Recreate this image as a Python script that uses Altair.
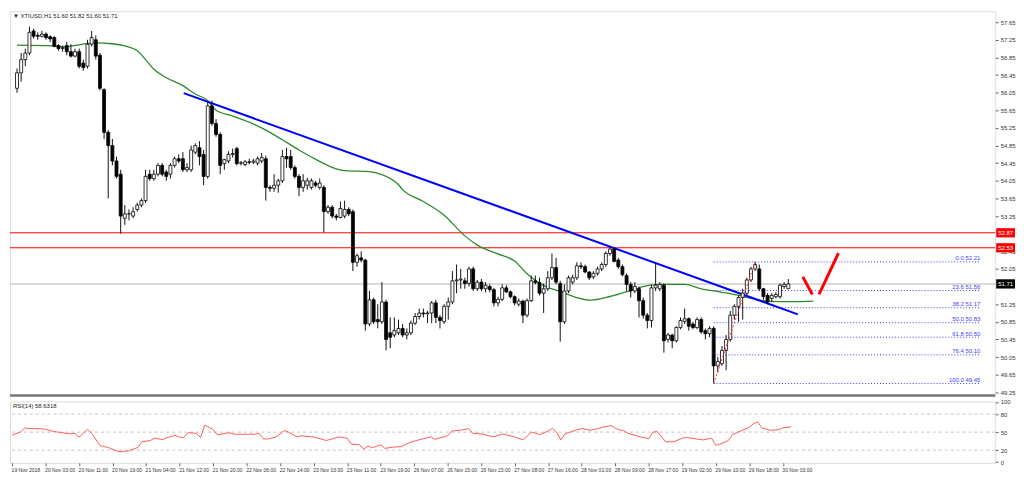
import altair as alt
import pandas as pd

# ---------------- data ----------------
opens = [56.15, 56.50, 56.80, 56.95, 57.45, 57.35, 57.33, 57.38, 57.32, 57.30,
         57.12, 57.05, 57.12, 56.98, 56.88, 56.98, 56.72, 56.65, 57.15, 57.25,
         56.90, 56.12, 55.15, 54.85, 54.50, 54.20, 53.20, 53.30, 53.25, 53.40,
         53.50, 53.60, 54.20, 54.10, 54.20, 54.40, 54.25, 54.20, 54.40, 54.55,
         54.55, 54.30, 54.30, 54.70, 54.80, 54.65, 54.15, 55.75, 55.35, 55.10,
         54.44, 54.50, 54.65, 54.78, 54.45, 54.42, 54.48, 54.47, 54.45, 54.50,
         54.55, 53.90, 53.88, 53.95, 54.05, 54.60, 54.60, 54.35, 54.15, 53.90,
         53.95, 53.90, 54.00, 53.90, 53.90, 53.35, 53.45, 53.25, 53.22, 53.25,
         53.40, 53.35, 52.20, 52.30, 52.25, 50.80, 51.35, 50.90, 50.85, 51.30,
         50.60, 50.55, 50.60, 50.70, 50.55, 50.60, 50.82, 50.97, 51.05, 51.03,
         51.05, 51.28, 50.95, 50.85, 51.20, 51.30, 51.78, 51.80, 51.78, 51.72,
         52.05, 51.60, 51.75, 51.60, 51.65, 51.58, 51.28, 51.36, 51.62, 51.53,
         51.42, 51.25, 51.32, 51.00, 51.33, 51.78, 51.74, 51.50, 51.60, 51.85,
         52.08, 51.72, 50.85, 51.55, 51.75, 51.85, 52.12, 52.10, 51.98, 51.87,
         51.95, 52.05, 52.15, 52.40, 52.50, 52.25, 52.10, 51.90, 51.70, 51.55,
         51.60, 51.33, 51.00, 50.88, 51.62, 51.60, 51.68, 50.45, 50.55, 50.42,
         50.72, 50.86, 50.92, 50.80, 50.72, 50.90, 50.65, 50.58, 50.70, 49.85,
         49.90, 50.20, 50.45, 51.00, 51.20, 51.40, 51.50, 51.80, 52.05, 52.05,
         51.60, 51.45, 51.38, 51.42, 51.42, 51.65, 51.60]
highs = [56.60, 56.95, 57.05, 57.55, 57.50, 57.42, 57.45, 57.42, 57.35, 57.33,
         57.15, 57.12, 57.20, 57.15, 57.05, 57.05, 56.80, 57.25, 57.45, 57.35,
         56.95, 56.15, 55.20, 55.00, 54.60, 54.30, 53.50, 53.40, 53.45, 53.55,
         53.65, 54.30, 54.30, 54.30, 54.45, 54.45, 54.30, 54.45, 54.60, 54.65,
         54.70, 54.45, 54.85, 54.90, 54.95, 54.75, 55.85, 55.87, 55.45, 55.15,
         54.55, 54.72, 54.78, 54.82, 54.50, 54.52, 54.55, 54.55, 54.60, 54.68,
         54.62, 53.95, 54.20, 54.10, 54.75, 54.80, 54.75, 54.40, 54.20, 54.20,
         54.12, 54.10, 54.05, 54.10, 53.95, 53.50, 53.50, 53.30, 53.58, 53.60,
         53.45, 53.40, 52.40, 52.45, 52.28, 51.55, 51.40, 51.25, 51.75, 51.35,
         50.95, 50.95, 50.90, 50.80, 50.70, 50.88, 51.05, 51.15, 51.15, 51.10,
         51.32, 51.35, 51.00, 51.25, 51.40, 52.00, 52.15, 52.05, 51.85, 52.10,
         52.10, 51.80, 51.82, 51.75, 51.70, 51.62, 51.42, 51.70, 51.68, 51.56,
         51.45, 51.38, 51.35, 51.38, 51.90, 51.90, 51.85, 51.72, 52.00, 52.40,
         52.30, 51.78, 51.70, 51.90, 51.92, 52.20, 52.20, 52.15, 52.00, 52.00,
         52.10, 52.20, 52.45, 52.55, 52.55, 52.30, 52.15, 51.95, 51.75, 51.75,
         51.65, 51.40, 51.05, 51.70, 52.20, 51.75, 51.72, 50.60, 50.58, 50.75,
         50.95, 51.15, 50.95, 50.85, 50.95, 50.95, 50.70, 50.75, 50.75, 50.05,
         50.30, 50.55, 51.10, 51.25, 51.45, 51.60, 51.85, 52.10, 52.21, 52.15,
         51.62, 51.50, 51.50, 51.52, 51.72, 51.75, 51.82]
lows = [56.05, 56.30, 56.65, 56.90, 57.28, 57.25, 57.30, 57.25, 57.20, 57.08,
        57.00, 56.98, 56.90, 56.85, 56.85, 56.60, 56.55, 56.60, 57.10, 56.80,
        56.10, 55.00, 53.65, 54.40, 54.10, 52.85, 53.05, 53.15, 53.20, 53.35,
        53.45, 53.55, 54.05, 54.05, 54.15, 54.15, 54.05, 54.10, 54.35, 54.45,
        54.25, 54.25, 54.25, 54.65, 54.40, 53.95, 54.10, 55.30, 55.05, 54.20,
        54.30, 54.45, 54.58, 54.40, 54.40, 54.38, 54.42, 54.43, 54.40, 54.45,
        53.60, 53.80, 53.80, 53.78, 54.00, 54.35, 54.30, 54.10, 53.70, 53.80,
        53.85, 53.85, 53.90, 53.85, 52.88, 53.30, 53.20, 53.15, 53.20, 53.20,
        53.25, 52.00, 52.10, 52.20, 50.65, 50.75, 50.80, 50.70, 50.80, 50.20,
        50.25, 50.50, 50.55, 50.50, 50.45, 50.55, 50.78, 50.90, 50.95, 50.82,
        50.82, 50.82, 50.70, 50.80, 50.90, 51.25, 51.50, 51.60, 51.60, 51.65,
        51.55, 51.55, 51.55, 51.52, 51.52, 51.20, 51.20, 51.32, 51.50, 51.38,
        51.22, 51.20, 50.82, 50.95, 51.30, 51.70, 51.45, 51.05, 51.55, 51.80,
        51.70, 50.40, 50.80, 51.50, 51.70, 51.80, 52.05, 51.95, 51.80, 51.82,
        51.90, 52.00, 52.10, 52.35, 52.20, 52.05, 51.88, 51.55, 51.40, 51.50,
        50.95, 50.92, 50.70, 50.72, 51.55, 51.55, 50.15, 50.38, 50.25, 50.38,
        50.68, 50.80, 50.65, 50.68, 50.68, 50.58, 50.45, 50.50, 49.45, 49.70,
        49.85, 49.75, 50.40, 50.90, 50.85, 50.90, 51.45, 51.75, 52.00, 51.55,
        51.35, 51.25, 51.30, 51.38, 51.38, 51.60, 51.60]
closes = [56.50, 56.80, 56.95, 57.42, 57.33, 57.33, 57.38, 57.30, 57.27, 57.10,
          57.05, 57.07, 56.98, 56.88, 56.98, 56.65, 56.62, 57.15, 57.30, 56.88,
          56.15, 55.15, 54.85, 54.50, 54.15, 53.25, 53.30, 53.30, 53.35, 53.50,
          53.60, 54.15, 54.10, 54.20, 54.40, 54.20, 54.15, 54.40, 54.55, 54.50,
          54.30, 54.35, 54.75, 54.85, 54.60, 54.15, 55.75, 55.35, 55.10, 54.40,
          54.53, 54.65, 54.67, 54.44, 54.46, 54.48, 54.47, 54.50, 54.55, 54.58,
          53.90, 53.88, 53.95, 54.05, 54.60, 54.55, 54.35, 54.15, 53.90, 54.05,
          54.05, 54.05, 53.95, 54.00, 53.35, 53.45, 53.25, 53.22, 53.42, 53.40,
          53.30, 52.20, 52.35, 52.25, 50.80, 51.35, 50.85, 50.85, 51.30, 50.45,
          50.50, 50.65, 50.70, 50.55, 50.60, 50.82, 50.97, 51.05, 51.03, 51.05,
          51.28, 50.95, 50.88, 51.20, 51.30, 51.78, 51.80, 51.82, 51.72, 52.05,
          51.60, 51.75, 51.60, 51.68, 51.58, 51.28, 51.36, 51.62, 51.53, 51.42,
          51.28, 51.32, 51.00, 51.33, 51.78, 51.74, 51.50, 51.60, 51.85, 52.08,
          51.75, 50.85, 51.55, 51.85, 51.85, 52.12, 52.10, 51.98, 51.85, 51.95,
          52.05, 52.15, 52.40, 52.50, 52.22, 52.10, 51.92, 51.70, 51.55, 51.65,
          51.33, 51.00, 50.88, 51.62, 51.68, 51.70, 50.42, 50.55, 50.42, 50.72,
          50.88, 50.92, 50.75, 50.72, 50.90, 50.62, 50.58, 50.70, 49.85, 49.95,
          50.20, 50.45, 51.00, 51.20, 51.40, 51.50, 51.80, 52.05, 52.15, 51.60,
          51.42, 51.30, 51.45, 51.47, 51.68, 51.70, 51.71]

x_labels = ["19 Nov 2018", "20 Nov 03:00", "20 Nov 11:00", "20 Nov 19:00",
            "21 Nov 04:00", "21 Nov 12:00", "21 Nov 20:00", "22 Nov 06:00",
            "22 Nov 14:00", "23 Nov 03:00", "23 Nov 11:00", "23 Nov 19:00",
            "26 Nov 07:00", "26 Nov 15:00", "26 Nov 23:00", "27 Nov 08:00",
            "27 Nov 16:00", "28 Nov 01:00", "28 Nov 09:00", "28 Nov 17:00",
            "29 Nov 02:00", "29 Nov 10:00", "29 Nov 18:00", "30 Nov 03:00"]
bars_per_label = 8

# 52.85 and 51.65 are hidden under the level boxes in the reference
price_ticks = [49.25, 49.65, 50.05, 50.45, 50.85, 51.25, 52.05, 52.45,
               53.25, 53.65, 54.05, 54.45, 54.85, 55.25, 55.65, 56.05,
               56.45, 56.85, 57.25, 57.65]

ma_bar = [0, 9, 11, 19, 23, 26, 29, 31, 33, 36, 40, 43, 46, 48, 52, 56, 60, 64,
          68, 71, 74, 77, 79, 85, 88, 92, 93, 98, 103, 108, 111, 116, 120, 123,
          127, 131, 135, 138, 141, 144, 148, 152, 156, 161, 165, 170, 175, 179,
          184, 188, 192]
ma_price = [57.13, 57.11, 57.09, 57.18, 57.16, 57.11, 57.00, 56.80, 56.58, 56.39,
            56.21, 56.02, 55.87, 55.65, 55.52, 55.38, 55.20, 54.98, 54.75, 54.59,
            54.44, 54.32, 54.28, 54.26, 54.19, 53.96, 53.85, 53.58, 53.27, 52.80,
            52.59, 52.39, 52.23, 51.94, 51.67, 51.54, 51.40, 51.34, 51.38, 51.45,
            51.56, 51.67, 51.70, 51.70, 51.60, 51.52, 51.43, 51.34, 51.31, 51.31,
            51.32]

trend_bar = [40.2, 188.3]
trend_price = [56.04, 51.02]

red_levels = [52.87, 52.53]
last_price = 51.71
chart_title = "\u25bc XTIUSD,H1  51.60 51.82 51.60 51.71"

fib_ratios = ["0.0", "23.6", "38.2", "50.0", "61.8", "76.4", "100.0"]
fib_prices = [52.21, 51.56, 51.17, 50.83, 50.50, 50.10, 49.45]
fib_low_bar = 168
fib_high_bar = 178
fib_right = 232.3

check_bar = [189.5, 191.8, 193.4, 198.1]
check_price = [51.87, 51.47, 51.47, 52.41]
check_stroke = ["a", "a", "b", "b"]

rsi_bar = [0, 2, 3, 4, 7, 8, 10, 11, 13, 14, 15, 16, 18, 19, 21, 23, 25, 26, 28, 30,
           31, 33, 34, 36, 37, 39, 40, 41, 42, 44, 45, 46, 48, 49, 51, 52, 53, 58, 59, 60,
           61, 63, 65, 66, 68, 69, 70,
           72, 75, 78, 80, 81, 83, 84, 85, 86, 88, 89, 91, 93, 95, 97, 100, 101, 104, 105, 107,
           109, 110, 112, 115, 117, 120, 122, 124, 126, 128, 129, 130, 131, 132, 134, 136, 138,
           141, 143, 144, 146, 147, 150, 152, 153, 154, 156, 158, 160, 161, 163, 165, 167, 168,
           169, 171, 172, 174, 176, 177, 178, 179, 181, 183, 184, 186]
rsi_val = [45, 50, 57, 56, 55.5, 54.5, 51, 50, 48, 47, 48, 41.5, 54.5, 48, 27.5, 24.5, 18.5,
           17.5, 19, 24.5, 34, 36, 40, 37.5, 41, 44.5, 41.5, 41, 49, 48, 41, 61.5, 54.5, 45.5,
           48, 49, 46.5, 46.5, 48, 38.5, 38.5, 42, 52.5, 50, 42, 44, 43,
           42, 36, 42, 40, 30, 29, 22, 27, 24, 29, 23, 25, 26, 33, 37, 42, 38, 44, 52, 53,
           56, 48, 47, 42, 47, 42, 37, 50, 46, 52, 56, 50, 37, 47, 52, 56, 53,
           58, 61, 56, 52, 48, 42, 39, 50, 51, 34, 34, 40, 41, 39, 37, 40, 28,
           30, 36, 46, 52, 58, 64, 67, 57, 53, 54, 57, 58.63]
rsi_levels = [80, 50, 20]
rsi_ticks = [0, 20, 50, 80, 100]
rsi_title = "RSI(14) 58.6318"

# ---------------- layout ----------------
W = 995
H1 = 388
H2 = 62
FONT = "Liberation Sans"

xsc = alt.Scale(domain=[-0.5, 234.7], nice=False, zero=False)
psc = alt.Scale(domain=[49.178, 57.897], nice=False, zero=False)
rsc = alt.Scale(domain=[-1, 101], nice=False, zero=False)

pax = alt.Axis(orient="right", values=price_ticks, format=".2f", title=None, grid=False,
               domain=False, tickSize=3, tickColor="#666666", labelFontSize=6,
               labelColor="#333333", labelPadding=2, labelOverlap=False, labelFont=FONT)
rax = alt.Axis(orient="right", values=rsi_ticks, title=None, grid=False, domain=False,
               tickSize=3, tickColor="#666666", labelFontSize=6, labelColor="#333333",
               labelPadding=2, labelOverlap=False, labelFont=FONT)
lab_js = "[" + ",".join("'" + s + "'" for s in x_labels) + "]"
xax = alt.Axis(values=[k * bars_per_label for k in range(len(x_labels))],
               labelExpr=lab_js + "[round(datum.value/" + str(bars_per_label) + ")]",
               title=None, grid=False, domain=False, tickSize=3, tickColor="#666666",
               labelAlign="left", labelFontSize=5.1, labelColor="#333333", labelPadding=2,
               labelOverlap=False, labelFlush=False, labelFont=FONT, labelOffset=-1)


def X(f):
    return alt.X(f, type="quantitative", scale=xsc, axis=None)


def P(f):
    return alt.Y(f, type="quantitative", scale=psc, axis=pax)


cdf = pd.DataFrame({"i": list(range(len(opens))), "o": opens, "h": highs, "l": lows, "c": closes})
cbase = alt.Chart(cdf)
wicks = cbase.mark_rule(color="#111111", strokeWidth=1).encode(x=X("i"), y=P("l"), y2="h")
bodies = cbase.mark_bar(size=3, stroke="#000000", strokeWidth=0.8).encode(
    x=X("i"), y=P("o"), y2="c",
    fill=alt.condition("datum.c >= datum.o", alt.value("#ffffff"), alt.value("#000000")))

last_df = pd.DataFrame({"p": [last_price]})
last_line = alt.Chart(last_df).mark_rule(color="#d9d9d9", strokeWidth=2).encode(y=P("p"))

red_df = pd.DataFrame({"p": red_levels})
red_lines = alt.Chart(red_df).mark_rule(color="#ff0000", strokeWidth=1).encode(y=P("p"))

fdf = pd.DataFrame({"r": fib_ratios, "p": fib_prices})
fib_rules = alt.Chart(fdf).transform_calculate(
    x0=str(fib_low_bar), x1=str(fib_right)
).mark_rule(color="#3c3cff", strokeDash=[1, 2], strokeWidth=1).encode(
    x=X("x0"), x2="x1", y=P("p"))
fib_text = alt.Chart(fdf).transform_calculate(
    x1=str(fib_right), lab="datum.r + ' ' + format(datum.p, '.2f')"
).mark_text(align="right", baseline="bottom", fontSize=6, color="#3c3cff", font=FONT, dy=-0.5).encode(
    x=X("x1"), y=P("p"), text="lab:N")

ddf = pd.DataFrame({"i": [fib_low_bar, fib_high_bar], "p": [fib_prices[-1], fib_prices[0]]})
fib_diag = alt.Chart(ddf).mark_line(color="#ff3030", strokeDash=[2, 2], strokeWidth=1).encode(
    x=X("i"), y=P("p"))

ma_df = pd.DataFrame({"i": ma_bar, "p": ma_price})
ma_line = alt.Chart(ma_df).mark_line(color="#2a8a2a", strokeWidth=1.3, interpolate="monotone").encode(
    x=X("i"), y=P("p"))

tr_df = pd.DataFrame({"i": trend_bar, "p": trend_price})
trend = alt.Chart(tr_df).mark_line(color="#0000ff", strokeWidth=2).encode(x=X("i"), y=P("p"))

ck_df = pd.DataFrame({"i": check_bar, "p": check_price, "g": check_stroke})
check = alt.Chart(ck_df).mark_line(color="#ff0000", strokeWidth=3).encode(
    x=X("i"), y=P("p"), detail="g:N")

bdf = pd.DataFrame({"p": red_levels + [last_price], "kind": ["level"] * len(red_levels) + ["last"]})
boxes = alt.Chart(bdf).transform_calculate(hi="datum.p + 0.105", lo="datum.p - 0.105").mark_rect().encode(
    x=alt.value(W + 1), x2=alt.value(W + 20), y=P("hi"), y2="lo",
    color=alt.Color("kind:N", scale=alt.Scale(domain=["level", "last"], range=["#ff0000", "#000000"]),
                    legend=None))
box_text = alt.Chart(bdf).mark_text(align="left", baseline="middle", fontSize=6, color="#ffffff",
                                    font=FONT).encode(
    x=alt.value(W + 3), y=P("p"), text=alt.Text("p:Q", format=".2f"))

tdf = pd.DataFrame({"t": [chart_title]})
title_txt = alt.Chart(tdf).mark_text(align="left", baseline="top", fontSize=6, color="#222222",
                                     font=FONT).encode(x=alt.value(3), y=alt.value(2), text="t:N")

# thick separator under the price panel
sep = alt.Chart(tdf).mark_rule(color="#777777", strokeWidth=2.5).encode(
    y=alt.value(H1), x=alt.value(0), x2=alt.value(W))

main = alt.layer(last_line, red_lines, fib_rules, ma_line, trend, wicks, bodies, fib_diag,
                 fib_text, check, boxes, box_text, title_txt, sep).properties(width=W, height=H1)

# RSI panel
rl_df = pd.DataFrame({"v": rsi_levels})
rsi_lv = alt.Chart(rl_df).mark_rule(color="#c4c4c4", strokeDash=[3, 3], strokeWidth=1).encode(
    y=alt.Y("v", type="quantitative", scale=rsc, axis=rax))
r_df = pd.DataFrame({"i": rsi_bar, "v": rsi_val})
rsi_line = alt.Chart(r_df).mark_line(color="#ff5c5c", strokeWidth=1).encode(
    x=alt.X("i", type="quantitative", scale=xsc, axis=xax),
    y=alt.Y("v", type="quantitative", scale=rsc, axis=rax))
rt_df = pd.DataFrame({"t": [rsi_title]})
rsi_txt = alt.Chart(rt_df).mark_text(align="left", baseline="top", fontSize=6, color="#222222",
                                     font=FONT).encode(x=alt.value(3), y=alt.value(2), text="t:N")
rsi = alt.layer(rsi_lv, rsi_line, rsi_txt).properties(width=W, height=H2)

chart = alt.vconcat(main, rsi, spacing=1).properties(
    padding=0, background="#ffffff"
).configure_view(stroke="#808080", strokeWidth=1).configure(font=FONT)

chart.save("out.html", embed_options={"renderer": "svg", "actions": False})
